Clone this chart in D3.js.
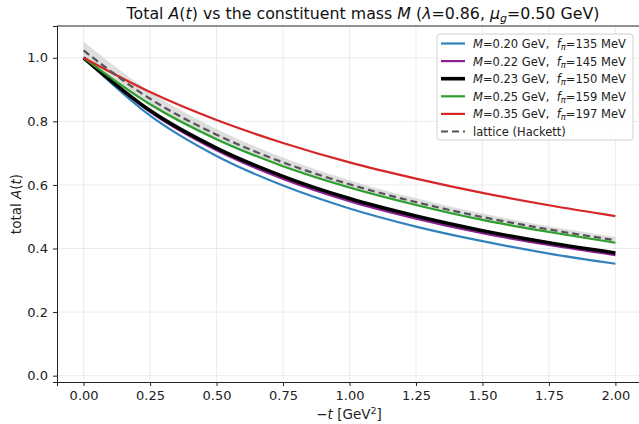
<!DOCTYPE html>
<html>
<head>
<meta charset="utf-8">
<script src="https://cdn.jsdelivr.net/npm/d3@7"></script>
<style>
  body { margin: 0; background: #fff; }
  svg { font-family: "DejaVu Sans", sans-serif; }
  text { white-space: pre; }
</style>
</head>
<body>
<div id="chart"></div>
<script>
// values
var t_values = [0, 0.25, 0.5, 0.75, 1.0, 1.25, 1.5, 1.75, 2.0];

var A_M020 = [1.0, 0.818, 0.691, 0.598, 0.526, 0.469, 0.423, 0.384, 0.352];
var A_M022 = [1.0, 0.830, 0.709, 0.619, 0.549, 0.494, 0.448, 0.411, 0.379];
var A_M023 = [1.0, 0.834, 0.716, 0.627, 0.557, 0.502, 0.456, 0.418, 0.386];
var A_M025 = [1.0, 0.854, 0.744, 0.659, 0.592, 0.537, 0.490, 0.452, 0.418];
var A_M035 = [1.0, 0.892, 0.804, 0.732, 0.671, 0.620, 0.575, 0.536, 0.502];

var lattice_A = [1.023, 0.871, 0.758, 0.671, 0.602, 0.546, 0.499, 0.460, 0.426];
var lattice_err = [0.028, 0.022, 0.018, 0.015, 0.013, 0.012, 0.011, 0.010, 0.010];

var x_ticks = [0, 0.25, 0.5, 0.75, 1.0, 1.25, 1.5, 1.75, 2.0];
var y_ticks = [0, 0.2, 0.4, 0.6, 0.8, 1.0];

var series = [
    {M: "0.20", f: "135", vals: A_M020, color: "#3182bd", width: 2.2},
    {M: "0.22", f: "145", vals: A_M022, color: "#8f1e96", width: 2.2},
    {M: "0.23", f: "150", vals: A_M023, color: "#000000", width: 3.6},
    {M: "0.25", f: "159", vals: A_M025, color: "#2ca02c", width: 2.2},
    {M: "0.35", f: "197", vals: A_M035, color: "#d62728", width: 2.2}
];

var W = 639, H = 424;
var margin = {left: 57, top: 26, right: -3, bottom: 42};

var svg = d3.select("#chart").append("svg")
    .attr("width", W)
    .attr("height", H);

var xScale = d3.scaleLinear()
    .domain([-0.1, 2.1])
    .range([margin.left, W - margin.right]);

var yScale = d3.scaleLinear()
    .domain([-0.02, 1.1])
    .range([H - margin.bottom, margin.top]);

// grid
var grid = svg.append("g").attr("class", "grid");
grid.selectAll(".gx").data(x_ticks).enter().append("line")
    .attr("x1", function(d) { return xScale(d); })
    .attr("x2", function(d) { return xScale(d); })
    .attr("y1", yScale.range()[0])
    .attr("y2", yScale.range()[1])
    .attr("stroke", "#b0b0b0").attr("stroke-opacity", 0.3).attr("stroke-width", 0.8);
grid.selectAll(".gy").data(y_ticks).enter().append("line")
    .attr("x1", xScale.range()[0])
    .attr("x2", xScale.range()[1])
    .attr("y1", function(d) { return yScale(d); })
    .attr("y2", function(d) { return yScale(d); })
    .attr("stroke", "#b0b0b0").attr("stroke-opacity", 0.3).attr("stroke-width", 0.8);

// lattice band
var band = d3.area()
    .x(function(d, i) { return xScale(t_values[i]); })
    .y0(function(d, i) { return yScale(lattice_A[i] - lattice_err[i]); })
    .y1(function(d, i) { return yScale(lattice_A[i] + lattice_err[i]); })
    .curve(d3.curveMonotoneX);

svg.append("path")
    .attr("d", band(lattice_A))
    .attr("fill", "#c8c8c8")
    .attr("fill-opacity", 0.6);

var line = d3.line()
    .x(function(d, i) { return xScale(t_values[i]); })
    .y(function(d) { return yScale(d); })
    .curve(d3.curveMonotoneX);

series.forEach(function(s) {
    svg.append("path")
        .attr("d", line(s.vals))
        .attr("fill", "none")
        .attr("stroke", s.color)
        .attr("stroke-width", s.width)
        .attr("stroke-linejoin", "round");
});

svg.append("path")
    .attr("d", line(lattice_A))
    .attr("fill", "none")
    .attr("stroke", "#555555")
    .attr("stroke-width", 2.2)
    .attr("stroke-dasharray", "7,4");

// axes
var xAxis = d3.axisBottom(xScale).tickValues(x_ticks)
    .tickFormat(d3.format(".2f")).tickSizeOuter(0).tickSize(4).tickPadding(5);
var yAxis = d3.axisLeft(yScale).tickValues(y_ticks)
    .tickFormat(d3.format(".1f")).tickSizeOuter(0).tickSize(4).tickPadding(5);

var gx = svg.append("g")
    .attr("transform", "translate(0," + (H - margin.bottom) + ")")
    .call(xAxis);
var gy = svg.append("g")
    .attr("transform", "translate(" + margin.left + ",0)")
    .call(yAxis);

[gx, gy].forEach(function(g) {
    g.select(".domain").attr("stroke", "#222").attr("stroke-width", 1);
    g.selectAll(".tick line").attr("stroke", "#222");
    g.selectAll("text").attr("font-size", "13px").attr("fill", "#222")
        .attr("font-family", "DejaVu Sans, sans-serif");
});

// top spine
svg.append("line")
    .attr("x1", xScale.range()[0]).attr("x2", xScale.range()[1])
    .attr("y1", yScale.range()[1]).attr("y2", yScale.range()[1])
    .attr("stroke", "#222").attr("stroke-width", 1);

// axis titles
var xl = svg.append("text")
    .attr("x", 349).attr("y", 419)
    .attr("text-anchor", "middle")
    .attr("font-size", "13.5px").attr("fill", "#222");
xl.append("tspan").text("\u2212");
xl.append("tspan").attr("font-style", "italic").text("t");
xl.append("tspan").text(" [GeV");
xl.append("tspan").attr("font-size", "9.5px").attr("dy", -5).text("2");
xl.append("tspan").attr("dy", 5).text("]");

var yl = svg.append("text")
    .attr("transform", "translate(21," + ((H - margin.bottom + margin.top) / 2) + ")rotate(-90)")
    .attr("text-anchor", "middle")
    .attr("font-size", "13.5px").attr("fill", "#222");
yl.append("tspan").text("total ");
yl.append("tspan").attr("font-style", "italic").text("A");
yl.append("tspan").text("(");
yl.append("tspan").attr("font-style", "italic").text("t");
yl.append("tspan").text(")");

// title
var title = svg.append("text")
    .attr("x", 363).attr("y", 19)
    .attr("text-anchor", "middle")
    .attr("font-size", "15.8px").attr("fill", "#111");
title.append("tspan").text("Total ");
title.append("tspan").attr("font-style", "italic").text("A");
title.append("tspan").text("(");
title.append("tspan").attr("font-style", "italic").text("t");
title.append("tspan").text(") vs the constituent mass ");
title.append("tspan").attr("font-style", "italic").text("M");
title.append("tspan").text(" (");
title.append("tspan").attr("font-style", "italic").text("\u03bb");
title.append("tspan").text("=0.86, ");
title.append("tspan").attr("font-style", "italic").text("\u03bc");
title.append("tspan").attr("font-style", "italic").attr("font-size", "11px").attr("dy", 3).text("g");
title.append("tspan").attr("dy", -3).text("=0.50 GeV)");

// legend
var leg = svg.append("g").attr("transform", "translate(437,34)");
leg.append("rect")
    .attr("width", 196).attr("height", 106)
    .attr("rx", 3)
    .attr("fill", "#fff").attr("fill-opacity", 0.85)
    .attr("stroke", "#d0d0d0");

var rowY = function(i) { return 9.5 + i * 17.6; };

series.forEach(function(s, i) {
    var g = leg.append("g").attr("transform", "translate(0," + rowY(i) + ")");
    g.append("line")
        .attr("x1", 4).attr("x2", 28)
        .attr("stroke", s.color).attr("stroke-width", s.width);
    var tx = g.append("text").attr("x", 36).attr("y", 4.5)
        .attr("font-size", "11.5px").attr("fill", "#222");
    tx.append("tspan").attr("font-style", "italic").text("M");
    tx.append("tspan").text("=" + s.M + " GeV,  ");
    tx.append("tspan").attr("font-style", "italic").text("f");
    tx.append("tspan").attr("font-style", "italic").attr("font-size", "8.5px").attr("dy", 2).text("\u03c0");
    tx.append("tspan").attr("dy", -2).text("=" + s.f + " MeV");
});

var gl = leg.append("g").attr("transform", "translate(0," + rowY(5) + ")");
gl.append("line")
    .attr("x1", 4).attr("x2", 28)
    .attr("stroke", "#555").attr("stroke-width", 2.2)
    .attr("stroke-dasharray", "7,4");
gl.append("text").attr("x", 36).attr("y", 4.5)
    .attr("font-size", "11.5px").attr("fill", "#222")
    .text("lattice (Hackett)");
</script>
</body>
</html>
